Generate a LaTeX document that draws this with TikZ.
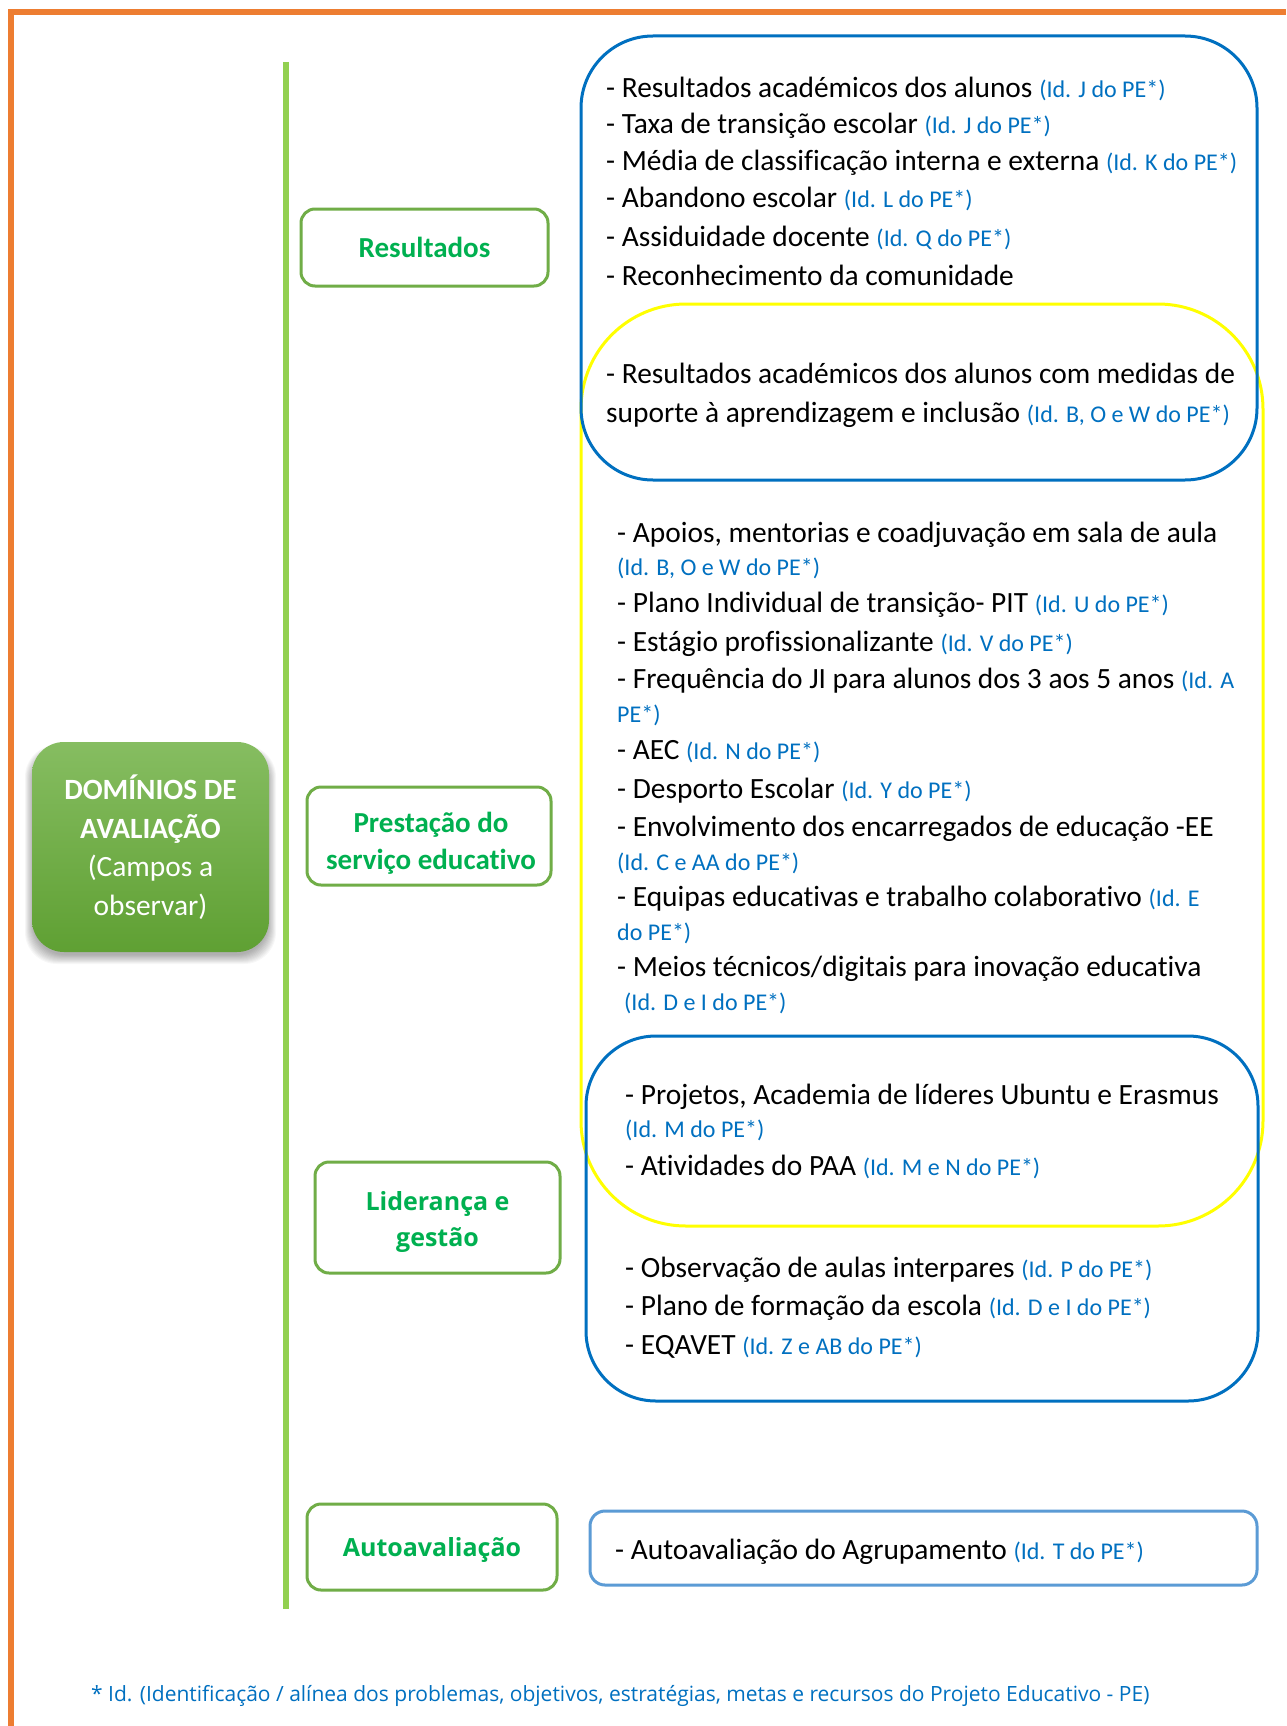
\documentclass[tikz,border=0pt]{standalone}
\usepackage{fontspec}
\setmainfont{Carlito}[Ligatures=NoCommon]
\newfontfamily\osans{Open Sans}
\definecolor{borderorange}{HTML}{ED7D31}
\definecolor{lineg}{HTML}{92D050}
\definecolor{boxgreen}{HTML}{70AD47}
\definecolor{textgreen}{HTML}{00B050}
\definecolor{idblue}{HTML}{0070C0}
\definecolor{frameblue}{HTML}{0070C0}
\definecolor{lightblue}{HTML}{5B9BD5}
\definecolor{yellowL}{HTML}{FFFF00}
\definecolor{domtop}{HTML}{86BD61}
\definecolor{dombot}{HTML}{5FA033}
\newcommand{\idt}[1]{{\color{idblue}\fontsize{24}{28}\selectfont #1}}
\begin{document}
\begin{tikzpicture}[x=1pt,y=-1pt,
  lab/.style={draw=boxgreen, line width=3pt, rounded corners=14pt, fill=white, inner sep=0pt},
  labtxt/.style={text=textgreen, font=\fontsize{29}{37}\selectfont\bfseries, align=center, inner sep=0pt},
  labotxt/.style={labtxt, font=\osans\fontsize{25}{36}\selectfont\bfseries},
  frame/.style={line width=3pt, inner sep=0pt},
  ln/.style={anchor=base west, inner sep=0pt, font=\fontsize{29.4}{35}\selectfont},
  idl/.style={anchor=base west, inner sep=0pt, font=\fontsize{24}{28}\selectfont, text=idblue}]
\useasboundingbox (0,0) rectangle (1286,1726);
\fill[white] (0,0) rectangle (1286,1726);
% orange border
\draw[borderorange, line width=6pt] (1286,12) -- (11,12) -- (11,1726);
% green spine
\draw[lineg, line width=6pt] (286,62) -- (286,1609);
% soft shadow of the main domain box
\foreach \i in {0,...,10}
  \fill[black, opacity=0.03, rounded corners=32pt] ({33-\i*0.8},{750-\i*0.5}) rectangle ({268+\i*0.8},{955+\i*0.9});
% main domain box
\node[draw=none, rounded corners=32pt, top color=domtop, bottom color=dombot,
  minimum width=237pt, minimum height=210pt, inner sep=0pt,
  text=white, align=center, font=\fontsize{29.4}{38.5}\selectfont] (dom) at (150.5,847)
  {\bfseries DOMÍNIOS DE\\\bfseries AVALIAÇÃO\\(Campos a\\observar)};
% domain labels
\node[lab, minimum width=247pt, minimum height=77pt] (res) at (424.5,247.5) {};
\node[labtxt] (restxt) at (424.5,247.5) {Resultados};
\node[lab, minimum width=244pt, minimum height=98pt] (pre) at (429,836) {};
\node[labtxt] (pretxt) at (431,843) {Prestação do\\serviço educativo};
\node[lab, minimum width=245pt, minimum height=111pt] (lid) at (437.5,1217.5) {};
\node[labotxt] (lidtxt) at (437.5,1221.5) {Liderança e\\gestão};
\node[lab, minimum width=250pt, minimum height=86pt] (aut) at (432,1547) {};
\node[labotxt] (auttxt) at (432,1550) {Autoavaliação};
% frames
\node[frame, draw=yellowL, rounded corners=105pt, minimum width=682pt, minimum height=922pt] (yel) at (922,765) {};
\node[frame, draw=frameblue, rounded corners=72pt, minimum width=676pt, minimum height=444pt] (b1) at (919,258) {};
\node[frame, draw=frameblue, rounded corners=70pt, minimum width=672pt, minimum height=365pt] (b2) at (922,1218.5) {};
\node[frame, draw=lightblue, rounded corners=15pt, minimum width=667pt, minimum height=74pt] (ab) at (923.5,1548) {};
% box 1 text
\node[ln] (t1) at (606,98) {- Resultados académicos dos alunos \idt{(Id. J do PE*)}};
\node[ln] (t2) at (606,134) {- Taxa de transição escolar \idt{(Id. J do PE*)}};
\node[ln] (t3) at (606,170) {- Média de classificação interna e externa \idt{(Id. K do PE*)}};
\node[ln] (t4) at (606,207) {- Abandono escolar \idt{(Id. L do PE*)}};
\node[ln] (t5) at (606,246) {- Assiduidade docente \idt{(Id. Q do PE*)}};
\node[ln] (t6) at (606,285) {- Reconhecimento da comunidade};
\node[ln] (t7) at (606,383) {- Resultados académicos dos alunos com medidas de};
\node[ln] (t8) at (606,422) {suporte à aprendizagem e inclusão \idt{(Id. B, O e W do PE*)}};
% yellow region text
\node[ln] (y1) at (617,542) {- Apoios, mentorias e coadjuvação em sala de aula};
\node[idl] (y2) at (617,575) {(Id. B, O e W do PE*)};
\node[ln] (y3) at (617,612) {- Plano Individual de transição- PIT \idt{(Id. U do PE*)}};
\node[ln] (y4) at (617,651) {- Estágio profissionalizante \idt{(Id. V do PE*)}};
\node[ln] (y5) at (617,688) {- Frequência do JI para alunos dos 3 aos 5 anos \idt{(Id. A}};
\node[idl] (y6) at (617,722) {PE*)};
\node[ln] (y7) at (617,759) {- AEC \idt{(Id. N do PE*)}};
\node[ln] (y8) at (617,798) {- Desporto Escolar \idt{(Id. Y do PE*)}};
\node[ln] (y9) at (617,836) {- Envolvimento dos encarregados de educação -EE};
\node[idl] (y10) at (617,870) {(Id. C e AA do PE*)};
\node[ln] (y11) at (617,906) {- Equipas educativas e trabalho colaborativo \idt{(Id. E}};
\node[idl] (y12) at (617,940) {do PE*)};
\node[ln] (y13) at (617,976) {- Meios técnicos/digitais para inovação educativa};
\node[idl] (y14) at (624,1010) {(Id. D e I do PE*)};
% box 2 text
\node[ln] (z1) at (625,1104) {- Projetos, Academia de líderes Ubuntu e Erasmus};
\node[idl] (z2) at (625,1137) {(Id. M do PE*)};
\node[ln] (z3) at (625,1175) {- Atividades do PAA \idt{(Id. M e N do PE*)}};
\node[ln] (z4) at (625,1277) {- Observação de aulas interpares \idt{(Id. P do PE*)}};
\node[ln] (z5) at (625,1315) {- Plano de formação da escola \idt{(Id. D e I do PE*)}};
\node[ln] (z6) at (625,1354) {- EQAVET \idt{(Id. Z e AB do PE*)}};
% autoavaliacao text
\node[ln] (a1) at (615,1559) {- Autoavaliação do Agrupamento \idt{(Id. T do PE*)}};
% footer
\node[anchor=base west, inner sep=0pt, text=idblue, font=\osans\fontsize{21}{25}\selectfont] (foot) at (91,1701)
  {* Id. (Identificação / alínea dos problemas, objetivos, estratégias, metas e recursos do Projeto Educativo - PE)};
\end{tikzpicture}
\end{document}
